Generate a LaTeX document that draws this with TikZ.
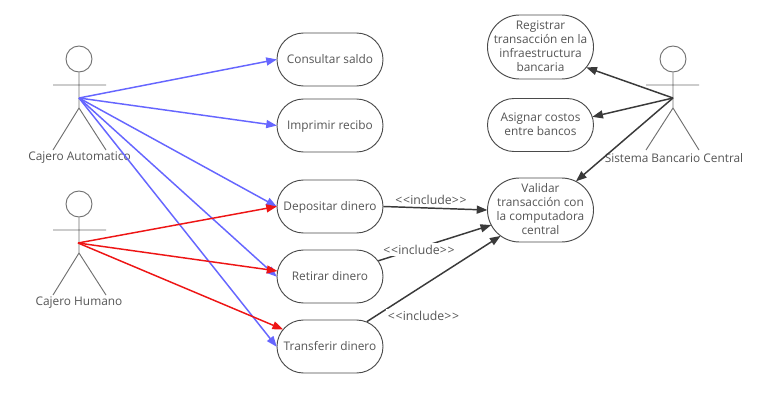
\documentclass[tikz,border=0pt]{standalone}
\usepackage{fontspec}
\setmainfont{Open Sans}
\usetikzlibrary{shapes.misc,arrows.meta}
\definecolor{ink}{HTML}{555555}
\definecolor{bord}{HTML}{4A4A4A}
\definecolor{lim}{HTML}{707070}
\definecolor{blu}{HTML}{6666FF}
\definecolor{rd}{HTML}{EE1515}
\definecolor{dk}{HTML}{3A3A3A}
\newcommand{\ctrtext}[1]{\makebox[0pt]{\smash{\raisebox{-2.8pt}{\begin{tabular}{@{}c@{}}#1\end{tabular}}}}}
\newcommand{\inctext}{<\kern0.6pt<include>\kern0.6pt>}
\tikzset{
  uc/.style={draw=bord,line width=0.7pt,rounded rectangle,fill=white,inner sep=0pt,minimum width=79.5pt,text=ink,font=\fontsize{8.9}{10.65}\selectfont},
  uc2/.style={uc,minimum height=39.75pt},
  uc4/.style={uc,minimum height=48pt},
  limb/.style={draw=lim,line width=0.7pt},
  head/.style={circle,draw=lim,line width=0.7pt,minimum size=19.5pt,inner sep=0pt},
  who/.style={text=ink,font=\fontsize{8.9}{10.65}\selectfont,inner sep=0pt},
  tip/.style={-{Triangle[length=8pt,width=6pt]},line width=1.1pt,shorten >=-0.3pt},
  ablue/.style={tip,draw=blu,color=blu},
  ared/.style={tip,draw=rd,color=rd},
  adark/.style={tip,draw=dk,color=dk},
  inc/.style={text=ink,font=\fontsize{9.2}{10.65}\selectfont,inner sep=1.2pt,fill=white}
}
\begin{document}
\begin{tikzpicture}[x=0.75pt,y=-0.75pt]
\useasboundingbox (0,0) rectangle (768,400);
\fill[white] (0,0) rectangle (768,400);
% use cases
\node[uc2] (cons) at (330,59.5) {\ctrtext{Consultar saldo}};
\node[uc2] (impr) at (330,125.5) {\ctrtext{Imprimir recibo}};
\node[uc2] (depo) at (330,206.5) {\ctrtext{Depositar dinero}};
\node[uc2] (reti) at (330,276.5) {\ctrtext{Retirar dinero}};
\node[uc2] (tran) at (330,346.5) {\ctrtext{Transferir dinero}};
\node[uc4] (regi) at (540.5,47) {\ctrtext{Registrar\\transacción en la\\infraestructura\\bancaria}};
\node[uc2] (asig) at (540.5,125) {\ctrtext{Asignar costos\\entre bancos}};
\node[uc4] (vali) at (540.5,210) {\ctrtext{Validar\\transacción con\\la computadora\\central}};
% actors
\node[head] (h1) at (79,59) {};
\coordinate (a1) at (79,98);
\coordinate (n1) at (79,108);
\coordinate (la1) at (53,85);
\coordinate (ra1) at (106,85);
\coordinate (lf1) at (53,150);
\coordinate (rf1) at (106,150);
\draw[limb] (h1) -- (n1) (la1) -- (ra1) (lf1) -- (n1) -- (rf1);
\node[who] (t1) at (79.5,158) {Cajero Automatico};
\node[head] (h2) at (79,204) {};
\coordinate (a2) at (78,243);
\coordinate (n2) at (79,253);
\coordinate (la2) at (53,230);
\coordinate (ra2) at (106,230);
\coordinate (lf2) at (53,295);
\coordinate (rf2) at (106,295);
\draw[limb] (h2) -- (n2) (la2) -- (ra2) (lf2) -- (n2) -- (rf2);
\node[who] (t2) at (79,303) {Cajero Humano};
\node[head] (h3) at (673,59) {};
\coordinate (a3) at (673,98);
\coordinate (n3) at (673,108);
\coordinate (la3) at (646,85);
\coordinate (ra3) at (699,85);
\coordinate (lf3) at (646,150);
\coordinate (rf3) at (699,150);
\draw[limb] (h3) -- (n3) (la3) -- (ra3) (lf3) -- (n3) -- (rf3);
\node[who] (t3) at (674,158) {Sistema Bancario Central};
% connectors
\draw[ablue] (a1) -- (cons.west);
\draw[ablue] (a1) -- (impr.west);
\draw[ablue] (a1) -- (depo.west);
\draw[ablue] (a1) -- (reti.west);
\draw[ablue] (a1) -- (tran.west);
\draw[ared] (a2) -- (depo.west);
\draw[ared] (a2) -- (reti.174);
\draw[ared] (a2) -- (tran.160);
\draw[adark] (a3) -- (regi.-24);
\draw[adark] (a3) -- (asig.9.5);
\draw[adark] (a3) -- (vali.39);
\draw[adark] (depo.east) -- (vali.west);
\draw[adark] (reti.18) -- (vali.197);
\draw[adark] (tran.34) -- (vali.213);
% labels
\node[inc] (i1) at (431,199.5) {\inctext};
\node[inc] (i2) at (419,249.5) {\inctext};
\node[inc] (i3) at (423.5,315.5) {\inctext};
\end{tikzpicture}
\end{document}
